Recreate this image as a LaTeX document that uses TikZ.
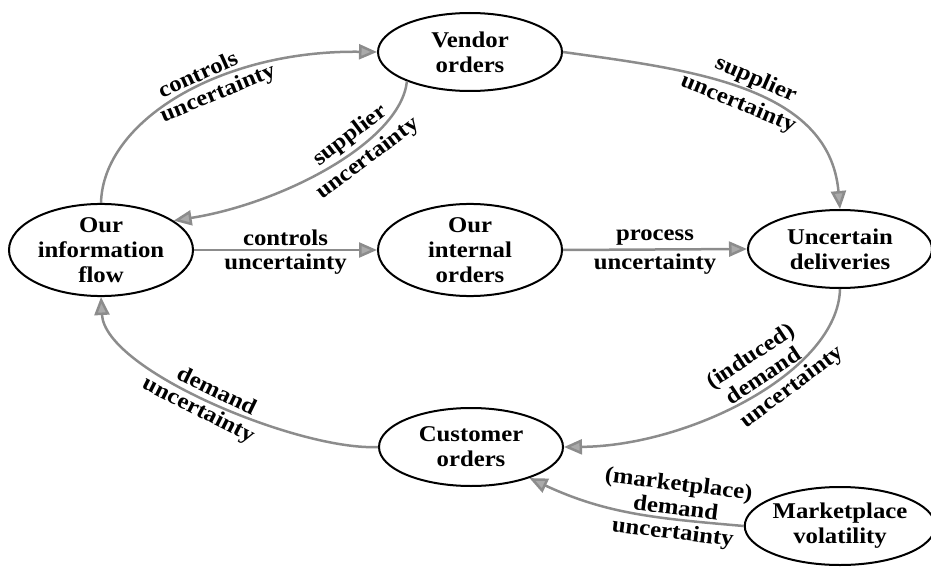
\documentclass[tikz,border=0pt]{standalone}
\usepackage{fontspec}
\setmainfont{Liberation Serif}[FakeStretch=1.1]
\usetikzlibrary{shapes.geometric,arrows.meta}
\definecolor{arrgray}{RGB}{140,140,140}
\definecolor{tipgray}{RGB}{170,170,170}
\begin{document}
\begin{tikzpicture}[x=1pt,y=1pt,
  box/.style={ellipse, draw, line width=2pt, minimum width=184pt, minimum height=78pt, inner sep=0pt, align=center, font=\fontsize{22.5}{25}\selectfont\bfseries},
  arr/.style={draw=arrgray, line width=2.5pt, -{Triangle[length=18pt,width=15pt,fill=tipgray]}},
  lbl/.style={font=\fontsize{22.5}{24}\selectfont\bfseries, align=center, sloped, inner sep=3pt}
]
\useasboundingbox (0,0) rectangle (931,566);
\node[box] (vendor) at (470,514) {Vendor\\orders};
\node[box] (info) at (101,316) {Our\\information\\flow};
\node[box] (internal) at (470,316) {Our\\internal\\orders};
\node[box] (deliv) at (840,317) {Uncertain\\deliveries};
\node[box] (cust) at (471,119) {Customer\\orders};
\node[box, minimum width=180pt] (market) at (840,40) {Marketplace\\volatility};

\draw[arr] (info.north) .. controls (103,445) and (220,516) .. node[lbl,above,pos=0.57]{controls} node[lbl,below,pos=0.6]{uncertainty} (vendor.west);
\draw[arr] (vendor.205) .. controls (400,423) and (280,362) .. node[lbl,above,pos=0.37]{supplier} node[lbl,below,pos=0.37]{uncertainty} (info.22);
\draw[arr] (info.east) -- node[lbl,above]{controls} node[lbl,below]{uncertainty} (internal.west);
\draw[arr] (internal.east) -- node[lbl,above]{process} node[lbl,below]{uncertainty} (deliv.west);
\draw[arr] (vendor.east) to[out=-8,in=95] node[lbl,above,pos=0.52]{supplier} node[lbl,below,pos=0.5]{uncertainty} (deliv.north);
\draw[arr] (deliv.south) .. controls (838,195) and (690,120) .. node[lbl,above,pos=0.43]{(induced)\\demand} node[lbl,below,pos=0.38]{uncertainty} (cust.east);
\draw[arr] (cust.west) .. controls (300,115) and (105,195) .. node[lbl,above,pos=0.5]{demand} node[lbl,below,pos=0.52]{uncertainty} (info.south);
\draw[arr] (market.west) to[out=175,in=-25] node[lbl,above,pos=0.3]{(marketplace)\\demand} node[lbl,below,pos=0.3]{uncertainty} (cust.-28);
\end{tikzpicture}
\end{document}
